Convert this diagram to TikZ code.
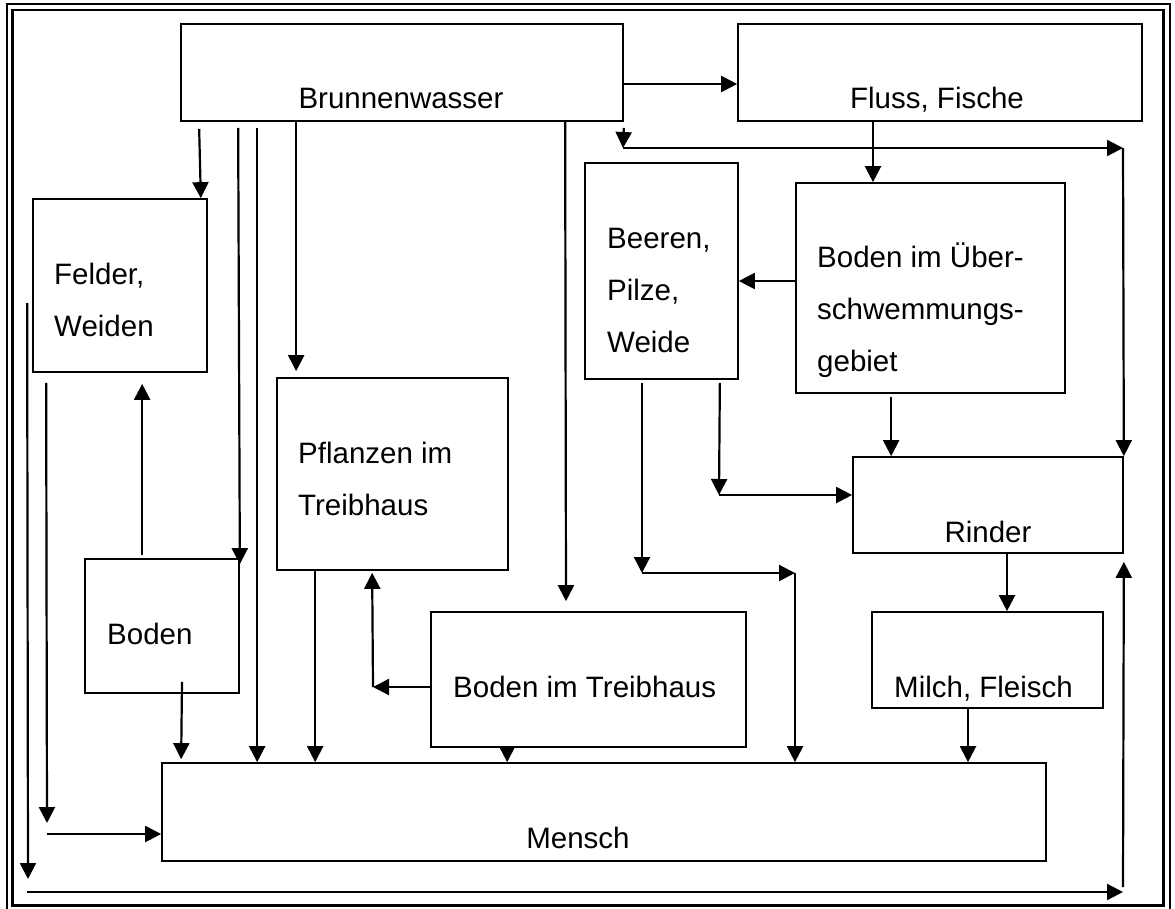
\documentclass[tikz,border=0pt]{standalone}
\usepackage{fontspec}
\setmainfont{Liberation Sans}
\usetikzlibrary{arrows.meta}

\begin{document}
\begin{tikzpicture}[x=1pt, y=-1pt, >={Triangle[length=16pt, width=16pt]}]
    \tikzstyle{block} = [rectangle, draw, line width=1.7pt, inner sep=0pt]
    \tikzstyle{txt} = [inner sep=0pt, align=left, font=\fontsize{29.5}{52}\selectfont]
    \tikzstyle{flow} = [->, line width=2.2pt]

    \useasboundingbox (0,0) rectangle (1175,908);

    % Frame
    \draw [line width=2pt] (6.5,4.2) rectangle (1169.5,911);
    \draw [line width=2.2pt] (12.5,9.8) rectangle (1163.5,905.5);

    % Top row
    \node [block, minimum width=442pt, minimum height=97pt] (brunnen) at (402,72.5) {};
    \node [block, minimum width=404pt, minimum height=97pt] (fluss) at (940,72.5) {};

    % Left side
    \node [block, minimum width=174pt, minimum height=173pt] (felder) at (120,285.5) {};
    \node [block, minimum width=154pt, minimum height=134pt] (boden) at (162,626) {};
    \node [block, minimum width=231pt, minimum height=192pt] (pflanzen) at (392.5,474) {};
    \node [block, minimum width=315pt, minimum height=135pt] (btreib) at (588.5,679.5) {};

    % Right side
    \node [block, minimum width=153pt, minimum height=216pt] (beeren) at (661.5,271) {};
    \node [block, minimum width=269pt, minimum height=210pt] (ueber) at (930.5,288) {};
    \node [block, minimum width=270pt, minimum height=96pt] (rinder) at (988,505) {};
    \node [block, minimum width=231pt, minimum height=96pt] (milch) at (987.5,660) {};

    % Bottom
    \node [block, minimum width=884pt, minimum height=98pt] (mensch) at (604,812) {};

    % Texts (base = last line)
    \node [txt, anchor=base] (tbrunnen) at (401,108) {Brunnenwasser};
    \node [txt, anchor=base] (tfluss) at (937,108) {Fluss, Fische};
    \node [txt, anchor=base west] (tfelder) at (54,336) {Felder,\\Weiden};
    \node [txt, anchor=base west] (tboden) at (107,644) {Boden};
    \node [txt, anchor=base west] (tpflanzen) at (298,515) {Pflanzen im\\Treibhaus};
    \node [txt, anchor=base west] (tbtreib) at (453,697) {Boden im Treibhaus};
    \node [txt, anchor=base west] (tbeeren) at (607,352) {Beeren,\\Pilze,\\Weide};
    \node [txt, anchor=base west] (tueber) at (817,371) {Boden im Über-\\schwemmungs-\\gebiet};
    \node [txt, anchor=base] (trinder) at (988,542) {Rinder};
    \node [txt, anchor=base west] (tmilch) at (894,697) {Milch, Fleisch};
    \node [txt, anchor=base] (tmensch) at (578,848) {Mensch};

    % Bend points
    \coordinate (wl) at (623,148);
    \coordinate (wr) at (1123,148);
    \coordinate (bw1) at (719,495);
    \coordinate (bw2) at (642,573);
    \coordinate (bw3) at (795,573);
    \coordinate (tb) at (373,687);
    \coordinate (ll) at (28,879);
    \coordinate (bl) at (27,892);
    \coordinate (br) at (1123,892);
    \coordinate (rb) at (1123,887);
    \coordinate (ml) at (47,823);
    \coordinate (mb) at (47,834);

    % Water
    \draw [flow] ([yshift=-11.5pt]brunnen.east) -- ([yshift=-11.5pt]fluss.west);
    \draw [flow] ([xshift=19pt,yshift=-7pt]brunnen.south west) -- ([xshift=-7pt]felder.north east);
    \draw [flow] ([xshift=58pt,yshift=-6pt]brunnen.south west) -- ([yshift=-6pt]boden.north east);
    \draw [flow] ([xshift=77pt,yshift=-6pt]brunnen.south west) -- ([xshift=96pt]mensch.north west);
    \draw [flow] ([xshift=116pt]brunnen.south west) -- ([xshift=20pt,yshift=6pt]pflanzen.north west);
    \draw [flow] ([xshift=385pt]brunnen.south west) -- ([xshift=-22.5pt,yshift=10pt]btreib.north);
    \draw [flow] ([yshift=-6pt]brunnen.south east) -- (wl);
    \draw [flow] (wl) -- (wr);
    \draw [flow] (wr) -- (rinder.north east);

    % River side
    \draw [flow] ([xshift=-67pt]fluss.south) -- ([xshift=-57.5pt]ueber.north);
    \draw [flow] ([yshift=7pt]ueber.west) -- ([yshift=-10pt]beeren.east);
    \draw [flow] ([xshift=-19pt,yshift=-3pt]beeren.south east) -- (bw1);
    \draw [flow] (bw1) -- (bw1 -| rinder.west);
    \draw [flow] ([xshift=-19.5pt,yshift=-3pt]beeren.south) -- (bw2);
    \draw [flow] (bw2) -- (bw3);
    \draw [flow] (bw3) -- (bw3 |- mensch.north);
    \draw [flow] ([xshift=96pt,yshift=-3pt]ueber.south west) -- ([xshift=39pt]rinder.north west);
    \draw [flow] ([xshift=19pt]rinder.south) -- ([xshift=19.5pt]milch.north);
    \draw [flow] ([xshift=-19.5pt,yshift=2pt]milch.south) -- ([xshift=364pt]mensch.north);

    % Greenhouse
    \draw [flow] ([xshift=39pt]pflanzen.south west) -- ([xshift=154pt]mensch.north west);
    \draw [flow] ([yshift=-7.5pt]btreib.west) -- (tb);
    \draw [flow] (tb) -- ([xshift=96pt,yshift=-2pt]pflanzen.south west);
    \draw [flow] ([xshift=77pt]btreib.south west) -- ([xshift=346pt]mensch.north west);

    % Fields
    \draw [flow] ([xshift=58pt,yshift=3pt]boden.north west) -- ([xshift=110pt,yshift=-11pt]felder.south west);
    \draw [flow] ([xshift=20pt,yshift=12pt]boden.south) -- ([xshift=20pt,yshift=3pt]mensch.north west);
    \draw [flow] ([xshift=-5pt,yshift=-17.5pt]felder.west) -- (ll);
    \draw [flow] (bl) -- (br);
    \draw [flow] (rb) -- ([yshift=-8pt]rinder.south east);
    \draw [flow] ([xshift=14pt,yshift=-10pt]felder.south west) -- (ml);
    \draw [flow] (mb) -- (mb -| mensch.west);
\end{tikzpicture}
\end{document}
